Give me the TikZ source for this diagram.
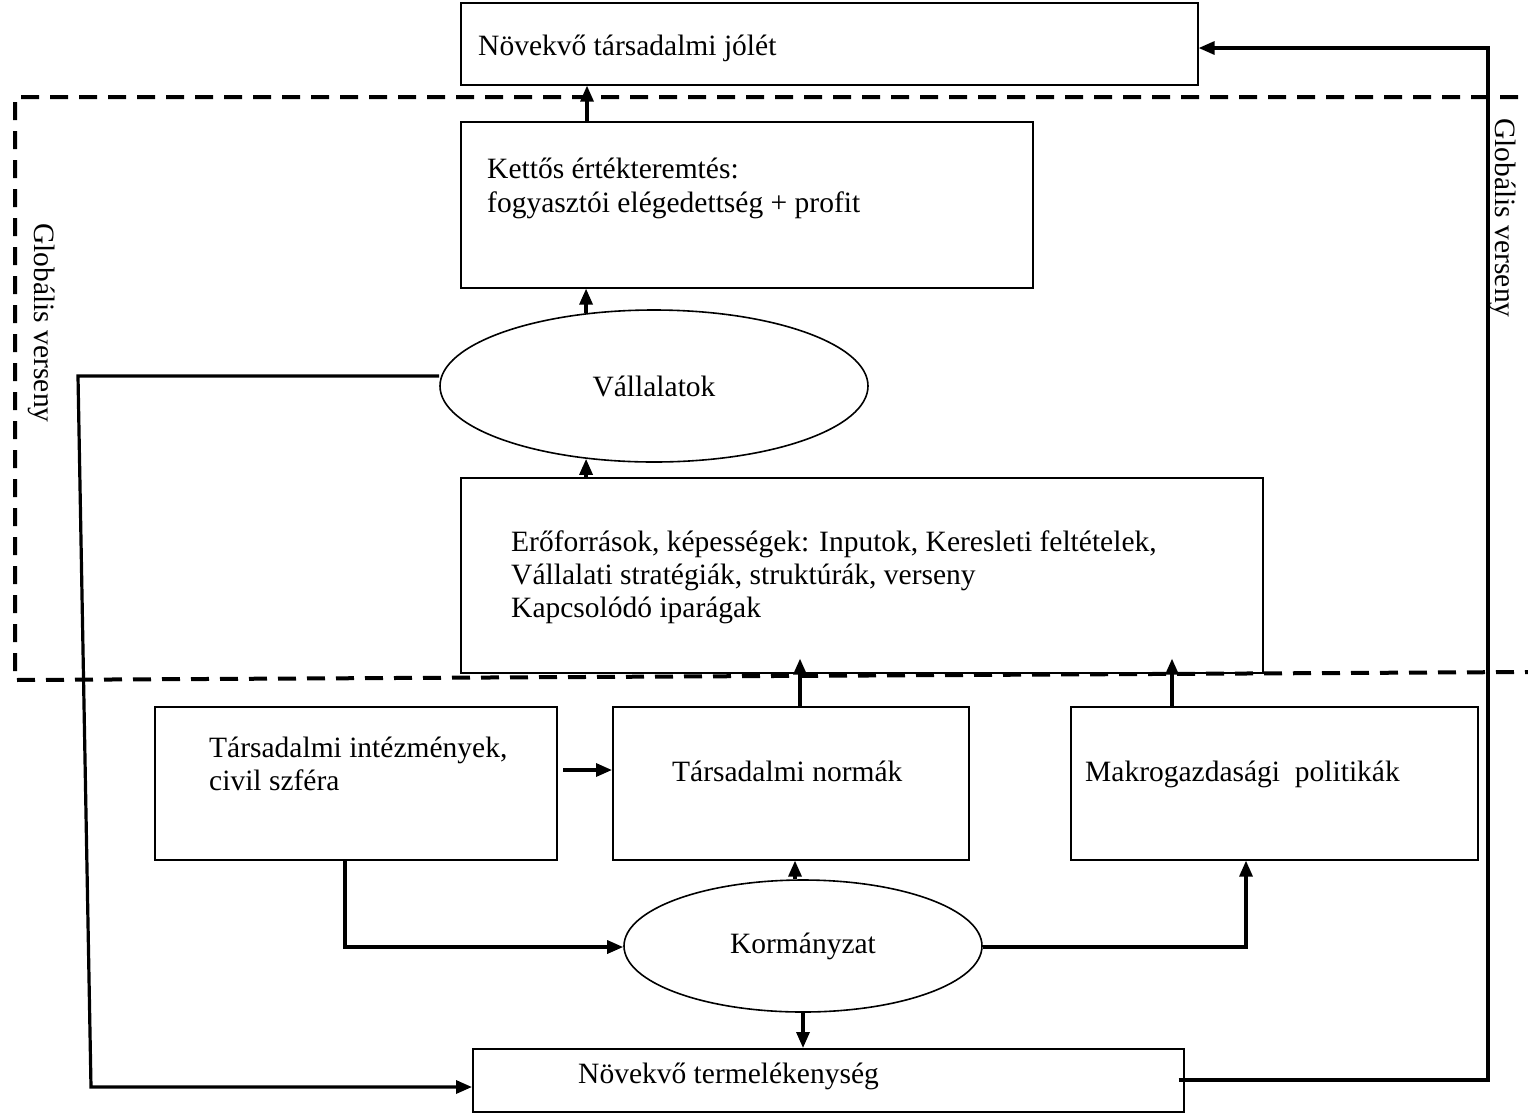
\documentclass[tikz,border=0pt]{standalone}
\usepackage{fontspec}
\setmainfont{Liberation Serif}
\usetikzlibrary{arrows.meta,calc,shapes.geometric}
\begin{document}
\begin{tikzpicture}[x=1pt,y=-1pt,
  box/.style={draw,line width=1.6pt,anchor=north west,inner sep=0pt},
  ell/.style={draw,ellipse,line width=1.6pt,inner sep=0pt,font=\fontsize{29.5}{33}\selectfont},
  conn/.style={line width=3.2pt,-{Triangle[length=16pt,width=13pt]}},
  txt/.style={font=\fontsize{29.5}{33}\selectfont,inner sep=0pt,align=left},
  dashbox/.style={line width=4pt,dash pattern=on 18pt off 11pt}]
\useasboundingbox (0,0) rectangle (1528,1112);

% dashed frame
\draw[dashbox] (1518,97) -- (15,97) -- (15,680) -- (1528,672);

% boxes
\node[box,minimum width=737pt,minimum height=82pt] (top) at (460,2) {};
\node[box,minimum width=572pt,minimum height=166pt] (kett) at (460,121) {};
\node[box,minimum width=802pt,minimum height=195pt] (erof) at (460,477) {};
\node[box,minimum width=402pt,minimum height=153pt] (inst) at (154,706) {};
\node[box,minimum width=356pt,minimum height=153pt] (normak) at (612,706) {};
\node[box,minimum width=407pt,minimum height=153pt] (makro) at (1070,706) {};
\node[box,minimum width=711pt,minimum height=63pt] (prod) at (472,1048) {};

% ellipses
\node[ell,minimum width=428pt,minimum height=152pt] (vall) at (654,386) {Vállalatok};
\node[ell,minimum width=358pt,minimum height=132pt] (korm) at (803,946) {Kormányzat};

% texts
\node[txt,anchor=base west] (toptxt) at (478,55) {Növekvő társadalmi jólét};
\node[txt,anchor=base west] (kett1) at (487,178) {Kettős értékteremtés:};
\node[txt,anchor=base west] (kett2) at (487,212) {fogyasztói elégedettség + profit};
\node[txt,anchor=base west] (erof1) at (511,551) {Erőforrások, képességek: Inputok, Keresleti feltételek,};
\node[txt,anchor=base west] (erof2) at (511,584) {Vállalati stratégiák, struktúrák, verseny};
\node[txt,anchor=base west] (erof3) at (511,617) {Kapcsolódó iparágak};
\node[txt,anchor=base west] (inst1) at (209,757) {Társadalmi intézmények,};
\node[txt,anchor=base west] (inst2) at (209,790) {civil szféra};
\node[txt,anchor=base west] (normtxt) at (672,781) {Társadalmi normák};
\node[txt,anchor=base west] (makrotxt) at (1085,781) {Makrogazdasági\ \ politikák};
\node[txt,anchor=base west] (prodtxt) at (578,1083) {Növekvő termelékenység};
\node[txt,rotate=-90] (glob1) at (42,323) {Globális verseny};
\node[txt,rotate=-90] (glob2) at (1503,218) {Globális verseny};

% helper coordinates
\coordinate (cx) at (587,0);
\coordinate (nx) at (800,0);
\coordinate (mx) at (1172,0);
\coordinate (kx) at (795,0);
\coordinate (ia) at (563,770);
\coordinate (k1) at (345,947);
\coordinate (k2) at (1246,947);
\coordinate (ll1) at (78,376);
\coordinate (ll2) at (91,1087);
\coordinate (rr1) at (1488,1080);
\coordinate (rr2) at (1488,48);

% connectors
\draw[conn] (kett.north -| cx) -- (top.south -| cx);
\draw[conn] (vall.133) -- (kett.south -| vall.133);
\draw[conn] (erof.north -| vall.227) -- (vall.227);
\draw[conn,shorten >=-15pt] (normak.north -| nx) -- (erof.south -| nx);
\draw[conn,shorten >=-15pt] (makro.north -| mx) -- (erof.south -| mx);
\draw[conn] (ia) -- (normak.west |- ia);
\draw[conn] (korm.north -| kx) -- (normak.south -| kx);
\draw[conn] (korm.south) -- (prod.north -| korm.south);
\draw[conn] (inst.south -| k1) -- (k1) -- (korm.west |- k1);
\draw[conn] (korm.east |- k2) -- (k2) -- (makro.south -| k2);
\draw[conn] (vall.west |- ll1) -- (ll1) -- (ll2) -- (prod.west |- ll2);
\draw[conn] ([xshift=-6pt]prod.east |- rr1) -- (rr1) -- (rr2) -- (top.east |- rr2);
\end{tikzpicture}
\end{document}
